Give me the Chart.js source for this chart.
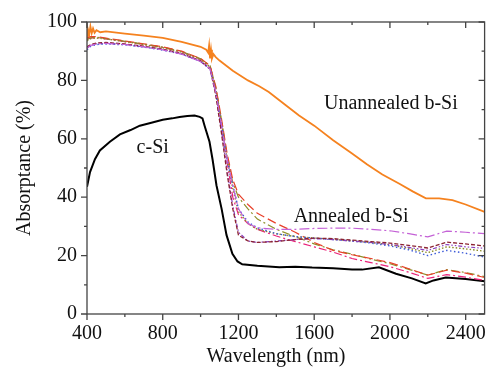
<!DOCTYPE html>
<html>
<head>
<meta charset="utf-8">
<script src="https://cdn.jsdelivr.net/npm/chart.js@4.4.1/dist/chart.umd.min.js"></script>
<style>
  html, body { margin: 0; padding: 0; background: #fff; }
  #wrap { width: 494px; height: 373px; }
</style>
</head>
<body>
<div id="wrap"><canvas id="absChart" width="494" height="373"></canvas></div>
<script>
// tick labels
const xTicks = [400, 800, 1200, 1600, 2000, 2400];
const xMinor = [600, 1000, 1400, 1800, 2200];
const yTicks = [0, 20, 40, 60, 80, 100];
const yMinor = [10, 30, 50, 70, 90];

// unannealed b-Si (orange)
const orangeWl  = [400, 405, 412, 418, 425, 432, 440, 450, 470, 500, 600, 700, 800, 900, 1000, 1030, 1040, 1045, 1050, 1055, 1060, 1068, 1080, 1100, 1170, 1250, 1310, 1360, 1450, 1520, 1600, 1700, 1800, 1880, 1960, 2050, 2120, 2190, 2260, 2330, 2400, 2500];
const orangeAbs = [94.5, 97.5, 95.8, 98.5, 96.2, 97.8, 96.3, 97.2, 96.5, 96.8, 96, 95.3, 94.6, 93.2, 91.5, 90.5, 89.5, 92, 87.5, 90.5, 87.5, 89, 88, 86.8, 83.3, 80, 78, 76, 71.5, 68, 64.5, 59.5, 55, 51.2, 47.8, 44.6, 42, 39.6, 39.6, 39, 37.5, 35];

// c-Si (black)
const csiWl  = [400, 416, 442, 468, 521, 574, 630, 679, 740, 800, 850, 889, 930, 968, 995, 1010, 1021, 1047, 1063, 1084, 1111, 1137, 1168, 1195, 1220, 1300, 1416, 1500, 1589, 1700, 1800, 1853, 1942, 2032, 2116, 2189, 2230, 2295, 2400, 2500];
const csiAbs = [43.6, 48.6, 53, 56, 59, 61.5, 63, 64.5, 65.5, 66.5, 67, 67.5, 67.8, 68, 67.5, 67, 64.5, 59, 53, 44, 36, 27, 20.6, 18, 17, 16.5, 16, 16.2, 15.9, 15.7, 15.2, 15.2, 16, 13.8, 12.2, 10.5, 11.5, 12.5, 12, 11.2];

// annealed b-Si samples
const annWl = [400, 420, 450, 500, 600, 700, 800, 900, 1000, 1050, 1080, 1110, 1140, 1170, 1200, 1250, 1300, 1400, 1500, 1600, 1700, 1800, 1900, 2000, 2100, 2200, 2300, 2400, 2500];
const annViolet = [91, 92, 92.5, 92.7, 92.3, 91.5, 90.5, 89, 86.5, 84, 76, 65, 53, 44, 36, 31, 29.5, 29, 29, 29.3, 29.4, 29.4, 29, 28.5, 27.5, 26.4, 28.4, 28, 27.5];
const annBrown  = [91.5, 92.3, 92.8, 93, 92.5, 91.7, 90.7, 89.2, 86.7, 84, 75, 62, 48, 36, 27, 25, 24.5, 24.8, 25.5, 26, 25.8, 25.3, 24.8, 24.3, 23.5, 22.6, 24.6, 24, 23.3];
const annPurple = [91, 92, 92.5, 92.7, 92.3, 91.5, 90.5, 89, 86.5, 83.8, 75.5, 63, 49, 37, 28, 25, 24.5, 25, 25.5, 25.8, 25.5, 25, 24.5, 23.8, 22.8, 21.8, 23.8, 23, 22.5];
const annBlue   = [90.5, 91.7, 92.3, 92.5, 92.2, 91.4, 90.4, 89, 86.5, 84, 76, 65, 53, 44, 36, 31.5, 29.5, 27.5, 26.5, 26, 25.5, 25, 24.3, 23.3, 22, 20, 21.8, 20.8, 19.5];
const annOliveDot = [93.5, 94.3, 94.5, 94.2, 93.3, 92.3, 91.2, 89.7, 87.2, 84.6, 77, 66, 53, 43, 35, 31, 29, 27.5, 26.5, 26, 25.6, 25, 24.5, 23.7, 22.5, 21, 23, 22.3, 21.5];
const annRed    = [94.5, 95, 95, 94.5, 93.5, 92.5, 91.5, 90, 87.5, 85, 78, 67, 55, 46, 41, 37.5, 34.5, 31, 28, 24.5, 21.8, 20.3, 19, 17.6, 15.5, 13.3, 15, 14, 12.5];
const annOliveDash = [94, 94.6, 94.8, 94.3, 93.4, 92.4, 91.4, 89.9, 87.4, 85, 77.5, 66.5, 54, 45, 40, 36, 32.5, 29, 26.5, 24, 22, 20.5, 18.8, 17.2, 15.3, 13.3, 15.2, 14.2, 12.8];
const annPink   = [94, 94.5, 94.7, 94.2, 93.3, 92.3, 91.3, 89.8, 87.3, 84.8, 77, 65.5, 52, 40, 34, 31, 29, 26.7, 24.8, 23, 21.2, 19, 17.6, 16.2, 14.3, 12.2, 13.5, 12.6, 11.5];

const toPoints = (xs, ys) => xs.map((x, i) => ({ x: x, y: ys[i] }));

const SERIF = '"Liberation Serif", "DejaVu Serif", serif';

const line = (label, xs, ys, color, width, dash) => ({
    label: label,
    data: toPoints(xs, ys),
    borderColor: color,
    borderWidth: width,
    borderDash: dash,
    pointRadius: 0,
    tension: 0,
    fill: false
});

// frame, ticks, x title and in-plot labels
const decorations = {
    id: 'decorations',
    afterDraw(chart) {
        const { ctx, chartArea: a, scales: { x, y } } = chart;
        ctx.save();
        ctx.strokeStyle = '#444';
        ctx.lineWidth = 1.3;
        ctx.strokeRect(a.left, a.top, a.right - a.left, a.bottom - a.top);

        ctx.beginPath();
        const tick = (x1, y1, x2, y2) => { ctx.moveTo(x1, y1); ctx.lineTo(x2, y2); };
        xTicks.forEach(v => {
            const px = x.getPixelForValue(v);
            tick(px, a.bottom, px, a.bottom + 6);
            tick(px, a.top, px, a.top + 6);
        });
        xMinor.forEach(v => {
            const px = x.getPixelForValue(v);
            tick(px, a.bottom, px, a.bottom + 3);
            tick(px, a.top, px, a.top + 3);
        });
        yTicks.forEach(v => {
            const py = y.getPixelForValue(v);
            tick(a.left - 6, py, a.left, py);
            tick(a.right - 6, py, a.right, py);
        });
        yMinor.forEach(v => {
            const py = y.getPixelForValue(v);
            tick(a.left - 3, py, a.left, py);
            tick(a.right - 3, py, a.right, py);
        });
        ctx.stroke();

        ctx.fillStyle = '#111';
        ctx.textAlign = 'center';
        ctx.textBaseline = 'middle';
        ctx.font = '20px ' + SERIF;
        ctx.fillText('Wavelength (nm)', 276, 357);

        ctx.font = '20px ' + SERIF;
        ctx.fillText('Unannealed b-Si', x.getPixelForValue(2005), y.getPixelForValue(72.1));
        ctx.fillText('c-Si', x.getPixelForValue(747), y.getPixelForValue(57));
        ctx.fillText('Annealed b-Si', x.getPixelForValue(1795), y.getPixelForValue(33.4));
        ctx.restore();
    }
};

const ctx = document.getElementById('absChart').getContext('2d');
new Chart(ctx, {
    type: 'line',
    data: {
        datasets: [
            line('Annealed violet', annWl, annViolet, '#c462d6', 1.2, [10, 3, 2, 3]),
            line('Annealed brown', annWl, annBrown, '#8b2332', 1.3, [4, 2]),
            line('Annealed purple', annWl, annPurple, '#8a3fc0', 1.2, [4, 2, 1.5, 2, 1.5, 2]),
            line('Annealed blue', annWl, annBlue, '#3c5ad8', 1.4, [1.5, 2.5]),
            line('Annealed olive dot', annWl, annOliveDot, '#8c8c28', 1.4, [1.5, 2]),
            line('Annealed red', annWl, annRed, '#e8402a', 1.2, [9, 4]),
            line('Annealed olive', annWl, annOliveDash, '#8f8f2a', 1.2, [8, 3, 2, 3]),
            line('Annealed pink', annWl, annPink, '#ea2279', 1.2, [8, 3, 2, 3]),
            line('c-Si', csiWl, csiAbs, '#000000', 2, []),
            line('Unannealed b-Si', orangeWl, orangeAbs, '#f5821f', 1.8, [])
        ]
    },
    options: {
        responsive: false,
        animation: false,
        devicePixelRatio: 1,
        layout: { padding: { top: 17, right: 7, left: 0, bottom: 0 } },
        plugins: {
            legend: { display: false },
            tooltip: { enabled: false }
        },
        scales: {
            x: {
                type: 'linear',
                min: 400,
                max: 2500,
                grid: { display: false, drawTicks: false },
                border: { display: false },
                afterBuildTicks: (scale) => { scale.ticks = xTicks.map(v => ({ value: v })); },
                afterFit: (scale) => { scale.height = 59; },
                ticks: {
                    color: '#111',
                    padding: 8,
                    maxRotation: 0,
                    callback: (v) => String(v),
                    font: { family: SERIF, size: 20 }
                }
            },
            y: {
                min: 0,
                max: 100,
                grid: { display: false, drawTicks: false },
                border: { display: false },
                afterBuildTicks: (scale) => { scale.ticks = yTicks.map(v => ({ value: v })); },
                afterFit: (scale) => { scale.width = 87; },
                ticks: {
                    color: '#111',
                    padding: 10,
                    callback: (v) => String(v),
                    font: { family: SERIF, size: 20 }
                },
                title: {
                    display: true,
                    text: 'Absorptance (%)',
                    color: '#111',
                    padding: { top: 13, bottom: 2 },
                    font: { family: SERIF, size: 20, weight: 'normal' }
                }
            }
        }
    },
    plugins: [decorations]
});
</script>
</body>
</html>
